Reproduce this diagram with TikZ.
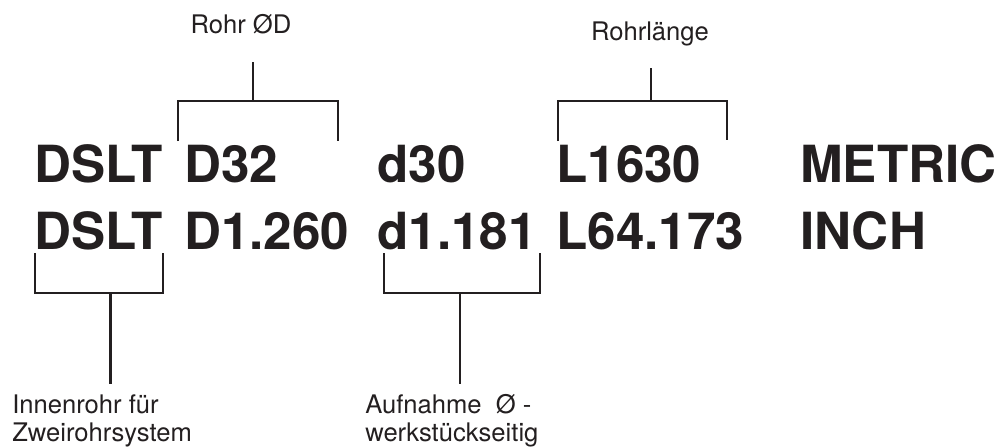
\documentclass[tikz,border=0pt]{standalone}
\usepackage{fontspec}
\setmainfont{TeX Gyre Heros}
\definecolor{ink}{HTML}{231F20}
\tikzset{
  code/.style={anchor=base west,inner sep=0pt,text=ink,font=\fontsize{36.4}{40}\selectfont\bfseries},
  note/.style={inner sep=0pt,text=ink,font=\fontsize{18.2}{19.9}\selectfont},
  brack/.style={draw=ink,line width=1.5pt}
}
\begin{document}
\begin{tikzpicture}[x=0.025cm,y=-0.025cm]
  \useasboundingbox (0,0) rectangle (995,447);
  % metric row
  \node[code] (typeA) at (34,182) {DSLT};
  \node[code] (bigD) at (184,182) {D32};
  \node[code] (smallD) at (377,182) {d30};
  \node[code] (lenA) at (556,182) {L1630};
  \node[code] (metric) at (800,182) {METRIC};
  % inch row
  \node[code] (typeB) at (34,249) {DSLT};
  \node[code] (bigDin) at (184,249) {D1.260};
  \node[code] (smallDin) at (377,249) {d1.181};
  \node[code] (lenB) at (556,249) {L64.173};
  \node[code] (inch) at (800,249) {INCH};
  % labels
  \node[note,anchor=base] (rohrD) at (241,33) {Rohr ØD};
  \node[note,anchor=base] (rohrL) at (650,40) {Rohrlänge};
  \node[note,anchor=north west,align=left] (innen) at (12,394) {Innenrohr für\\Zweirohrsystem};
  \node[note,anchor=north west,align=left] (aufn) at (365,394) {Aufnahme~ Ø -\\werkstückseitig};
  % top brackets
  \draw[brack] (178,141) -- (178,101) -- coordinate[pos=0.47] (midD) (338,101) -- (338,141);
  \draw[brack] (midD) -- (midD |- rohrD.south) [shorten >=0.7cm];
  \draw[brack] (558,141) -- (558,101) -- coordinate[pos=0.55] (midL) (727,101) -- (727,140);
  \draw[brack,shorten >=0.55cm] (midL) -- (midL |- rohrL.south);
  % bottom brackets
  \draw[brack] (35,253) -- (35,293) -- coordinate[pos=0.59] (midT) (163,293) -- (163,253);
  \draw[brack,shorten >=0.25cm] (midT) -- (midT |- innen.north);
  \draw[brack] (384,253) -- (384,293) -- coordinate[pos=0.49] (midA) (540,293) -- (540,253);
  \draw[brack,shorten >=0.25cm] (midA) -- (midA |- aufn.north);
\end{tikzpicture}
\end{document}
